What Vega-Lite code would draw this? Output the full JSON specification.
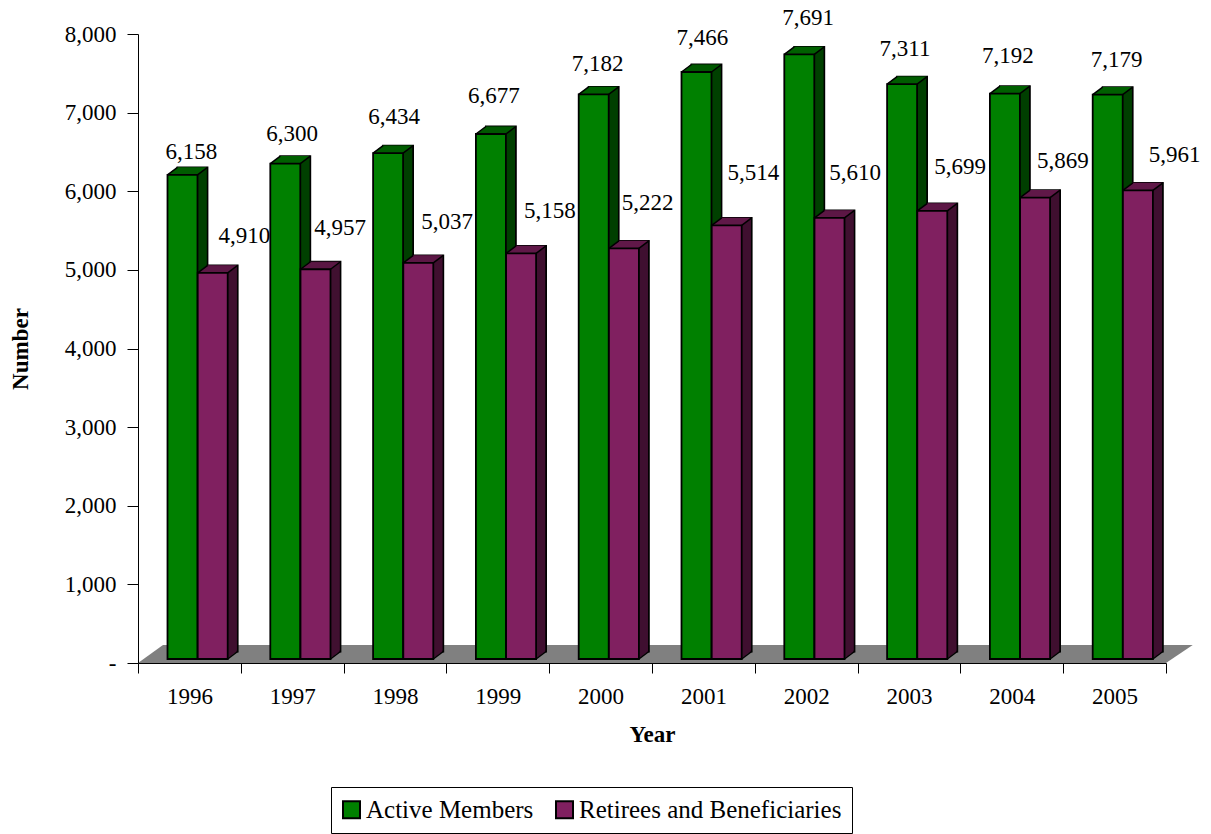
{
"$schema":"https://vega.github.io/schema/vega-lite/v6.json",
"width":1028,"height":629,
"autosize":{"type":"none"},
"padding":{"left":138,"top":34,"right":45,"bottom":171},
"background":"white",
"config":{"view":{"stroke":null},"font":"Liberation Serif"},
"datasets":{"members":[
{"year":"1996","series":"Active Members","value":6158},{"year":"1996","series":"Retirees and Beneficiaries","value":4910},
{"year":"1997","series":"Active Members","value":6300},{"year":"1997","series":"Retirees and Beneficiaries","value":4957},
{"year":"1998","series":"Active Members","value":6434},{"year":"1998","series":"Retirees and Beneficiaries","value":5037},
{"year":"1999","series":"Active Members","value":6677},{"year":"1999","series":"Retirees and Beneficiaries","value":5158},
{"year":"2000","series":"Active Members","value":7182},{"year":"2000","series":"Retirees and Beneficiaries","value":5222},
{"year":"2001","series":"Active Members","value":7466},{"year":"2001","series":"Retirees and Beneficiaries","value":5514},
{"year":"2002","series":"Active Members","value":7691},{"year":"2002","series":"Retirees and Beneficiaries","value":5610},
{"year":"2003","series":"Active Members","value":7311},{"year":"2003","series":"Retirees and Beneficiaries","value":5699},
{"year":"2004","series":"Active Members","value":7192},{"year":"2004","series":"Retirees and Beneficiaries","value":5869},
{"year":"2005","series":"Active Members","value":7179},{"year":"2005","series":"Retirees and Beneficiaries","value":5961}
]},
"resolve":{"scale":{"x":"independent"}},
"layer":[
{"data":{"values":[{"pos":0,"left":0,"right":10},{"pos":229,"left":0.243,"right":10.26}]},
 "mark":{"type":"area","orient":"horizontal","color":"#808080","clip":false},
 "encoding":{
  "y":{"field":"pos","type":"quantitative","title":"Number","scale":{"domain":[0,8000],"nice":false},
   "axis":{"values":[0,1000,2000,3000,4000,5000,6000,7000,8000],"labelExpr":"datum.value===0?'-':format(datum.value,',')","labelFontSize":23,"labelFont":"Liberation Serif","labelColor":"#000","labelPadding":11,"tickSize":11,"tickColor":"#000","domainColor":"#000","grid":false,"zindex":1,"titleFontSize":23,"titleFont":"Liberation Serif","titleFontWeight":"bold","titleColor":"#000","titlePadding":32}},
  "x":{"field":"left","type":"quantitative","scale":{"domain":[0,10],"nice":false,"zero":false},"axis":null},
  "x2":{"field":"right"}}},
{"data":{"name":"members"},
 "encoding":{
  "x":{"field":"year","type":"ordinal","title":"Year","scale":{"paddingInner":0,"paddingOuter":0},
   "axis":{"labelAngle":0,"labelFontSize":23,"labelFont":"Liberation Serif","labelColor":"#000","labelPadding":12,"tickBand":"extent","tickSize":10,"tickColor":"#000","domainColor":"#000","zindex":1,"titleFontSize":23,"titleFont":"Liberation Serif","titleFontWeight":"bold","titleColor":"#000","titlePadding":15}},
  "y":{"field":"value","type":"quantitative","title":"Number"}
 },
 "layer":[
 {"transform":[{"filter":"datum.series==='Active Members'"}],
  "layer":[
  {"mark":{"type":"bar","width":30,"fill":"#004000","xOffset":3.1,"yOffset":-11.5,"stroke":"#000","strokeWidth":1.8}},
  {"mark":{"type":"bar","width":30,"fill":"#004000","xOffset":2.1,"yOffset":-10.75}},
  {"mark":{"type":"bar","width":30,"fill":"#004000","xOffset":1.1,"yOffset":-10}},
  {"mark":{"type":"bar","width":30,"fill":"#004000","xOffset":0.1,"yOffset":-9.25}},
  {"mark":{"type":"bar","width":30,"fill":"#004000","xOffset":-0.9,"yOffset":-8.5}},
  {"mark":{"type":"bar","width":30,"fill":"#004000","xOffset":-1.9,"yOffset":-7.75}},
  {"mark":{"type":"bar","width":30,"fill":"#004000","xOffset":-2.9,"yOffset":-7}},
  {"mark":{"type":"bar","width":30,"fill":"#004000","xOffset":-3.9,"yOffset":-6.25}},
  {"mark":{"type":"bar","width":30,"fill":"#004000","xOffset":-4.9,"yOffset":-5.5}},
  {"mark":{"type":"bar","width":30,"fill":"#004000","xOffset":-5.9,"yOffset":-4.75}},
  {"mark":{"type":"bar","width":30,"stroke":"#006000","strokeWidth":1.2,"xOffset":2.4,"yOffset":-11,"y2Offset":-11},"encoding":{"y2":{"field":"value"}}},
  {"mark":{"type":"bar","width":30,"stroke":"#006000","strokeWidth":1.2,"xOffset":1.1,"yOffset":-10,"y2Offset":-10},"encoding":{"y2":{"field":"value"}}},
  {"mark":{"type":"bar","width":30,"stroke":"#006000","strokeWidth":1.2,"xOffset":-0.2,"yOffset":-9,"y2Offset":-9},"encoding":{"y2":{"field":"value"}}},
  {"mark":{"type":"bar","width":30,"stroke":"#006000","strokeWidth":1.2,"xOffset":-1.6,"yOffset":-8,"y2Offset":-8},"encoding":{"y2":{"field":"value"}}},
  {"mark":{"type":"bar","width":30,"stroke":"#006000","strokeWidth":1.2,"xOffset":-2.9,"yOffset":-7,"y2Offset":-7},"encoding":{"y2":{"field":"value"}}},
  {"mark":{"type":"bar","width":30,"stroke":"#006000","strokeWidth":1.2,"xOffset":-4.2,"yOffset":-6,"y2Offset":-6},"encoding":{"y2":{"field":"value"}}},
  {"mark":{"type":"bar","width":30,"stroke":"#006000","strokeWidth":1.2,"xOffset":-5.6,"yOffset":-5,"y2Offset":-5},"encoding":{"y2":{"field":"value"}}},
  {"mark":{"type":"bar","width":30,"xOffset":-6.9,"yOffset":-4,"stroke":"#000","strokeWidth":1.8},"encoding":{"color":{"field":"series","type":"nominal","scale":{"domain":["Active Members","Retirees and Beneficiaries"],"range":["#008000","#802060"]},"legend":{"title":null,"orient":"none","legendX":193,"legendY":753,"direction":"horizontal","labelLimit":500,"labelFontSize":25,"labelFont":"Liberation Serif","labelColor":"#000","symbolType":"square","symbolSize":289,"symbolStrokeColor":"#000","symbolStrokeWidth":2,"symbolOffset":-2,"strokeColor":"#000","fillColor":"#fff","padding":10,"columnPadding":18,"labelOffset":2}}}},
  {"mark":{"type":"rule","stroke":"#000","strokeWidth":1.5,"xOffset":-21.9,"x2Offset":-11.9,"yOffset":-4,"y2Offset":-11.5},"encoding":{"x2":{"field":"year"},"y2":{"field":"value"}}},
  {"mark":{"type":"rule","stroke":"#000","strokeWidth":1.5,"xOffset":8.1,"x2Offset":18.1,"yOffset":-4,"y2Offset":-11.5},"encoding":{"x2":{"field":"year"},"y2":{"field":"value"}}}
  ]},
 {"transform":[{"filter":"datum.series==='Retirees and Beneficiaries'"}],
  "layer":[
  {"mark":{"type":"bar","width":30,"fill":"#401030","xOffset":33.3,"yOffset":-11.5,"stroke":"#000","strokeWidth":1.8}},
  {"mark":{"type":"bar","width":30,"fill":"#401030","xOffset":32.3,"yOffset":-10.75}},
  {"mark":{"type":"bar","width":30,"fill":"#401030","xOffset":31.3,"yOffset":-10}},
  {"mark":{"type":"bar","width":30,"fill":"#401030","xOffset":30.3,"yOffset":-9.25}},
  {"mark":{"type":"bar","width":30,"fill":"#401030","xOffset":29.3,"yOffset":-8.5}},
  {"mark":{"type":"bar","width":30,"fill":"#401030","xOffset":28.3,"yOffset":-7.75}},
  {"mark":{"type":"bar","width":30,"fill":"#401030","xOffset":27.3,"yOffset":-7}},
  {"mark":{"type":"bar","width":30,"fill":"#401030","xOffset":26.3,"yOffset":-6.25}},
  {"mark":{"type":"bar","width":30,"fill":"#401030","xOffset":25.3,"yOffset":-5.5}},
  {"mark":{"type":"bar","width":30,"fill":"#401030","xOffset":24.3,"yOffset":-4.75}},
  {"mark":{"type":"bar","width":30,"stroke":"#601848","strokeWidth":1.2,"xOffset":32.6,"yOffset":-11,"y2Offset":-11},"encoding":{"y2":{"field":"value"}}},
  {"mark":{"type":"bar","width":30,"stroke":"#601848","strokeWidth":1.2,"xOffset":31.3,"yOffset":-10,"y2Offset":-10},"encoding":{"y2":{"field":"value"}}},
  {"mark":{"type":"bar","width":30,"stroke":"#601848","strokeWidth":1.2,"xOffset":30,"yOffset":-9,"y2Offset":-9},"encoding":{"y2":{"field":"value"}}},
  {"mark":{"type":"bar","width":30,"stroke":"#601848","strokeWidth":1.2,"xOffset":28.6,"yOffset":-8,"y2Offset":-8},"encoding":{"y2":{"field":"value"}}},
  {"mark":{"type":"bar","width":30,"stroke":"#601848","strokeWidth":1.2,"xOffset":27.3,"yOffset":-7,"y2Offset":-7},"encoding":{"y2":{"field":"value"}}},
  {"mark":{"type":"bar","width":30,"stroke":"#601848","strokeWidth":1.2,"xOffset":26,"yOffset":-6,"y2Offset":-6},"encoding":{"y2":{"field":"value"}}},
  {"mark":{"type":"bar","width":30,"stroke":"#601848","strokeWidth":1.2,"xOffset":24.6,"yOffset":-5,"y2Offset":-5},"encoding":{"y2":{"field":"value"}}},
  {"mark":{"type":"bar","width":30,"xOffset":23.3,"yOffset":-4,"stroke":"#000","strokeWidth":1.8},"encoding":{"color":{"field":"series","type":"nominal"}}},
  {"mark":{"type":"rule","stroke":"#000","strokeWidth":1.5,"xOffset":8.3,"x2Offset":18.3,"yOffset":-4,"y2Offset":-11.5},"encoding":{"x2":{"field":"year"},"y2":{"field":"value"}}},
  {"mark":{"type":"rule","stroke":"#000","strokeWidth":1.5,"xOffset":38.3,"x2Offset":48.3,"yOffset":-4,"y2Offset":-11.5},"encoding":{"x2":{"field":"year"},"y2":{"field":"value"}}},
  {"mark":{"type":"rule","stroke":"#000","strokeWidth":1.5,"xOffset":38.3,"x2Offset":48.3,"yOffset":-4,"y2Offset":-11.5},"encoding":{"x2":{"field":"year"},"y":{"datum":0},"y2":{"datum":0}}}
  ]},
 {"transform":[{"filter":"datum.series==='Active Members'&&datum.year==='1996'"}],"mark":{"type":"text","fontSize":23,"font":"Liberation Serif","fill":"#000","xOffset":2,"yOffset":-27},"encoding":{"text":{"field":"value","type":"quantitative","format":","}}},
 {"transform":[{"filter":"datum.series==='Active Members'&&datum.year==='1997'"}],"mark":{"type":"text","fontSize":23,"font":"Liberation Serif","fill":"#000","xOffset":0,"yOffset":-34},"encoding":{"text":{"field":"value","type":"quantitative","format":","}}},
 {"transform":[{"filter":"datum.series==='Active Members'&&datum.year==='1998'"}],"mark":{"type":"text","fontSize":23,"font":"Liberation Serif","fill":"#000","xOffset":-1,"yOffset":-40},"encoding":{"text":{"field":"value","type":"quantitative","format":","}}},
 {"transform":[{"filter":"datum.series==='Active Members'&&datum.year==='1999'"}],"mark":{"type":"text","fontSize":23,"font":"Liberation Serif","fill":"#000","xOffset":-4,"yOffset":-42},"encoding":{"text":{"field":"value","type":"quantitative","format":","}}},
 {"transform":[{"filter":"datum.series==='Active Members'&&datum.year==='2000'"}],"mark":{"type":"text","fontSize":23,"font":"Liberation Serif","fill":"#000","xOffset":-3,"yOffset":-34},"encoding":{"text":{"field":"value","type":"quantitative","format":","}}},
 {"transform":[{"filter":"datum.series==='Active Members'&&datum.year==='2001'"}],"mark":{"type":"text","fontSize":23,"font":"Liberation Serif","fill":"#000","xOffset":-1,"yOffset":-38},"encoding":{"text":{"field":"value","type":"quantitative","format":","}}},
 {"transform":[{"filter":"datum.series==='Active Members'&&datum.year==='2002'"}],"mark":{"type":"text","fontSize":23,"font":"Liberation Serif","fill":"#000","xOffset":2,"yOffset":-40},"encoding":{"text":{"field":"value","type":"quantitative","format":","}}},
 {"transform":[{"filter":"datum.series==='Active Members'&&datum.year==='2003'"}],"mark":{"type":"text","fontSize":23,"font":"Liberation Serif","fill":"#000","xOffset":-4,"yOffset":-39},"encoding":{"text":{"field":"value","type":"quantitative","format":","}}},
 {"transform":[{"filter":"datum.series==='Active Members'&&datum.year==='2004'"}],"mark":{"type":"text","fontSize":23,"font":"Liberation Serif","fill":"#000","xOffset":-4,"yOffset":-42},"encoding":{"text":{"field":"value","type":"quantitative","format":","}}},
 {"transform":[{"filter":"datum.series==='Active Members'&&datum.year==='2005'"}],"mark":{"type":"text","fontSize":23,"font":"Liberation Serif","fill":"#000","xOffset":2,"yOffset":-39},"encoding":{"text":{"field":"value","type":"quantitative","format":","}}},
 {"transform":[{"filter":"datum.series!=='Active Members'&&datum.year==='1996'"}],"mark":{"type":"text","fontSize":23,"font":"Liberation Serif","fill":"#000","xOffset":55,"yOffset":-41},"encoding":{"text":{"field":"value","type":"quantitative","format":","}}},
 {"transform":[{"filter":"datum.series!=='Active Members'&&datum.year==='1997'"}],"mark":{"type":"text","fontSize":23,"font":"Liberation Serif","fill":"#000","xOffset":48,"yOffset":-45},"encoding":{"text":{"field":"value","type":"quantitative","format":","}}},
 {"transform":[{"filter":"datum.series!=='Active Members'&&datum.year==='1998'"}],"mark":{"type":"text","fontSize":23,"font":"Liberation Serif","fill":"#000","xOffset":52,"yOffset":-45},"encoding":{"text":{"field":"value","type":"quantitative","format":","}}},
 {"transform":[{"filter":"datum.series!=='Active Members'&&datum.year==='1999'"}],"mark":{"type":"text","fontSize":23,"font":"Liberation Serif","fill":"#000","xOffset":52,"yOffset":-46},"encoding":{"text":{"field":"value","type":"quantitative","format":","}}},
 {"transform":[{"filter":"datum.series!=='Active Members'&&datum.year==='2000'"}],"mark":{"type":"text","fontSize":23,"font":"Liberation Serif","fill":"#000","xOffset":47,"yOffset":-49},"encoding":{"text":{"field":"value","type":"quantitative","format":","}}},
 {"transform":[{"filter":"datum.series!=='Active Members'&&datum.year==='2001'"}],"mark":{"type":"text","fontSize":23,"font":"Liberation Serif","fill":"#000","xOffset":50,"yOffset":-56},"encoding":{"text":{"field":"value","type":"quantitative","format":","}}},
 {"transform":[{"filter":"datum.series!=='Active Members'&&datum.year==='2002'"}],"mark":{"type":"text","fontSize":23,"font":"Liberation Serif","fill":"#000","xOffset":49,"yOffset":-49},"encoding":{"text":{"field":"value","type":"quantitative","format":","}}},
 {"transform":[{"filter":"datum.series!=='Active Members'&&datum.year==='2003'"}],"mark":{"type":"text","fontSize":23,"font":"Liberation Serif","fill":"#000","xOffset":51,"yOffset":-48},"encoding":{"text":{"field":"value","type":"quantitative","format":","}}},
 {"transform":[{"filter":"datum.series!=='Active Members'&&datum.year==='2004'"}],"mark":{"type":"text","fontSize":23,"font":"Liberation Serif","fill":"#000","xOffset":51,"yOffset":-41},"encoding":{"text":{"field":"value","type":"quantitative","format":","}}},
 {"transform":[{"filter":"datum.series!=='Active Members'&&datum.year==='2005'"}],"mark":{"type":"text","fontSize":23,"font":"Liberation Serif","fill":"#000","xOffset":60,"yOffset":-39},"encoding":{"text":{"field":"value","type":"quantitative","format":","}}}
 ]}
]
}
